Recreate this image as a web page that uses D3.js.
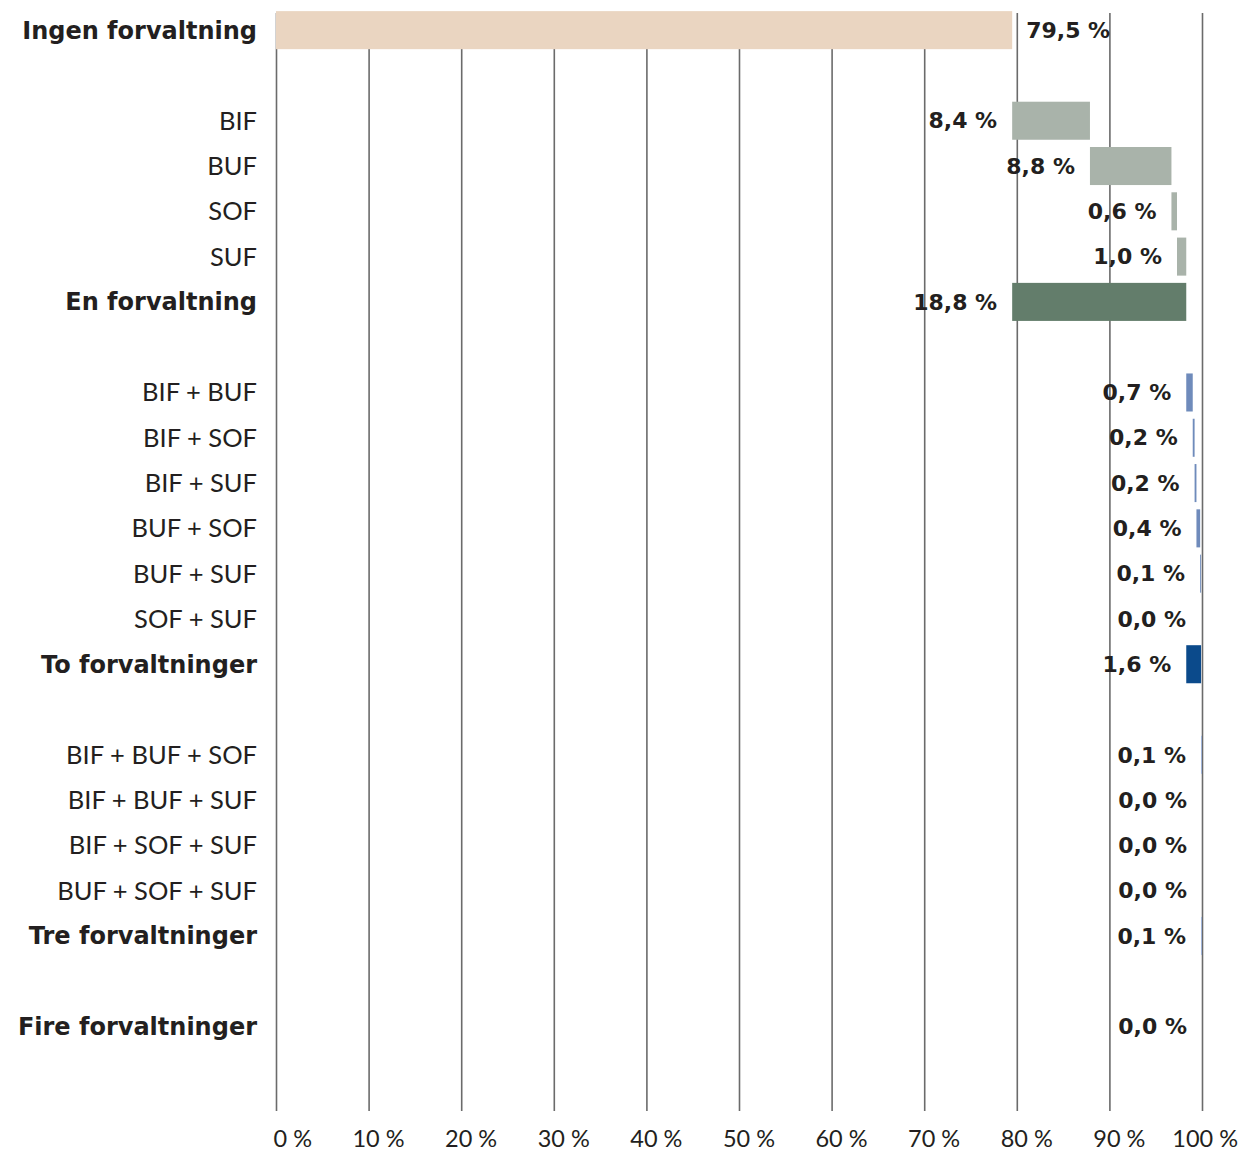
<!DOCTYPE html>
<html>
<head>
<meta charset="utf-8">
<script src="https://cdn.jsdelivr.net/npm/d3@7"></script>
<style>
  html, body { margin: 0; padding: 0; background: #fff; }
  svg { display: block; }
  text { font-family: Lato, "Open Sans", sans-serif; fill: #231f20; }
  text.bold { font-family: "DejaVu Sans", sans-serif; font-weight: bold; }
</style>
</head>
<body>
<svg id="chart" width="1242" height="1152"></svg>
<script>
// ---- data ----
const groupNames  = ["Ingen forvaltning", "En forvaltning", "To forvaltninger", "Tre forvaltninger", "Fire forvaltninger"];
const groupTotals = [79.5, 18.8, 1.6, 0.1, 0.0];
const partNames = [
  [],
  ["BIF", "BUF", "SOF", "SUF"],
  ["BIF + BUF", "BIF + SOF", "BIF + SUF", "BUF + SOF", "BUF + SUF", "SOF + SUF"],
  ["BIF + BUF + SOF", "BIF + BUF + SUF", "BIF + SOF + SUF", "BUF + SOF + SUF"],
  []
];
const partValues = [
  [],
  [8.4, 8.8, 0.6, 1.0],
  [0.7, 0.2, 0.2, 0.4, 0.1, 0.0],
  [0.1, 0.0, 0.0, 0.0],
  []
];
const tickValues = [0, 10, 20, 30, 40, 50, 60, 70, 80, 90, 100];
const totalColors = ["#EAD5C1", "#637D6B", "#0B4A8B", "#9DB3DA", "#9DB3DA"];
const partColors  = ["#EAD5C1", "#A9B3AA", "#6F8BBB", "#9DB3DA", "#9DB3DA"];

// ---- build rows (cumulative / waterfall) ----
const rows = [];
let running = 0;
groupNames.forEach((g, gi) => {
  const start = running;
  let cum = start;
  partNames[gi].forEach((p, pi) => {
    rows.push({label: p, value: partValues[gi][pi], start: cum, bold: false, color: partColors[gi]});
    cum += partValues[gi][pi];
  });
  rows.push({label: g, value: groupTotals[gi], start: start, bold: true, color: totalColors[gi], first: gi === 0});
  rows.push({label: "", value: null});
  running = start + groupTotals[gi];
});

const fmt = v => d3.format(".1f")(v).replace(".", ",") + " %";

// ---- scales ----
const svg = d3.select("#chart");
const x = d3.scaleLinear().domain([0, 100]).range([276, 1202]);
const y = d3.scaleBand().domain(d3.range(rows.length)).range([7.5, 1094.5])
  .paddingInner(0.16).paddingOuter(0.08);

const gridTop = 13, gridBottom = 1111;

// gridlines via axis
const grid = svg.append("g").attr("transform", `translate(0,${gridBottom})`)
  .call(d3.axisBottom(x).tickValues(tickValues).tickSize(-(gridBottom - gridTop)).tickFormat(""));
grid.select(".domain").remove();
grid.selectAll(".tick line").attr("stroke", "#6b6b6b").attr("stroke-width", 1.6);

// tick labels
svg.append("g").selectAll("text").data(tickValues).join("text")
  .attr("x", d => x(d) + 36)
  .attr("y", 1147)
  .attr("text-anchor", "end")
  .attr("font-size", 23.5)
  .text(d => d + " %");

// bars
const barRows = rows.map((r, i) => ({...r, i})).filter(r => r.value !== null);
svg.append("g").selectAll("rect").data(barRows).join("rect")
  .attr("x", d => x(d.start))
  .attr("y", d => y(d.i))
  .attr("width", d => x(d.start + d.value) - x(d.start))
  .attr("height", y.bandwidth())
  .attr("fill", d => d.color);

// category labels
svg.append("g").selectAll("text").data(barRows).join("text")
  .attr("class", d => d.bold ? "bold" : null)
  .attr("x", 257)
  .attr("y", d => y(d.i) + y.bandwidth() / 2)
  .attr("dy", "0.35em")
  .attr("text-anchor", "end")
  .attr("font-size", d => d.bold ? 24 : 25.5)
  .text(d => d.label);

// value labels
svg.append("g").selectAll("text").data(barRows).join("text")
  .attr("class", "bold")
  .attr("x", d => d.first ? x(d.start + d.value) + 14 : x(d.start) - 15)
  .attr("y", d => y(d.i) + y.bandwidth() / 2)
  .attr("dy", "0.35em")
  .attr("text-anchor", d => d.first ? "start" : "end")
  .attr("font-size", 22)
  .text(d => fmt(d.value));
</script>
</body>
</html>
